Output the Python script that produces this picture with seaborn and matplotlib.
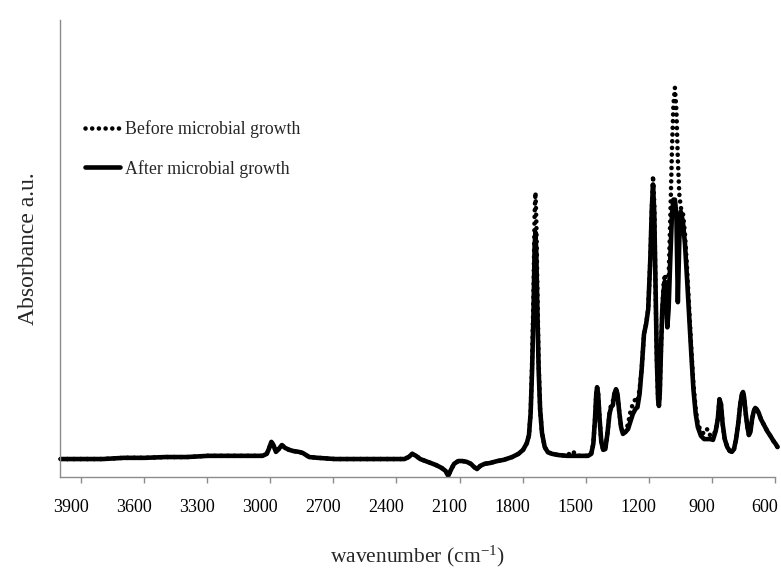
import matplotlib
matplotlib.use("Agg")
import matplotlib.pyplot as plt
import matplotlib.transforms as mtransforms
import numpy as np
import pandas as pd
import seaborn as sns

# ---------------- data ----------------
wavenumber = [
    3997, 3897, 3797, 3697, 3597, 3497, 3397, 3297, 3197, 3097, 3037, 3017,
    3007, 2995, 2985, 2973, 2960, 2945, 2930, 2910, 2890, 2865, 2845, 2815,
    2773, 2693, 2593, 2493, 2392, 2362, 2342, 2325, 2307, 2287, 2262, 2237,
    2212, 2186, 2166, 2154, 2141, 2126, 2106, 2086, 2066, 2046, 2031, 2017,
    2001, 1981, 1956, 1920, 1890, 1850, 1820, 1798,
    1780, 1770, 1762, 1755, 1748, 1743, 1739, 1735, 1730, 1724, 1717, 1708,
    1695, 1680, 1660, 1630, 1589, 1564, 1539, 1489,
    1474, 1464, 1456, 1450, 1446, 1441, 1434, 1426, 1417, 1407, 1397, 1387,
    1379, 1371, 1364, 1356, 1349, 1341, 1332, 1323, 1311, 1299, 1287, 1276,
    1264, 1254, 1244, 1234,
    1223, 1213, 1203, 1193, 1186, 1180, 1174, 1168, 1162, 1156, 1152, 1148,
    1142, 1136, 1130, 1124, 1118, 1112, 1106, 1098, 1090, 1083, 1076, 1069,
    1062, 1055, 1048, 1038, 1028, 1018, 1008, 998, 988,
    977, 967, 952, 937, 922, 907, 895, 882, 872, 864, 857, 849, 839, 827,
    815, 805, 795, 785, 775, 765, 757, 752, 747, 739, 731, 724, 717, 709,
    701, 694, 687, 677, 667, 652, 637, 622, 607, 597, 588,
]

before_growth = [
    0.045, 0.045, 0.045, 0.048, 0.048, 0.050, 0.050, 0.053, 0.053, 0.053, 0.053, 0.058,
    0.070, 0.088, 0.080, 0.063, 0.070, 0.080, 0.073, 0.068, 0.065, 0.063, 0.060, 0.050,
    0.048, 0.045, 0.045, 0.045, 0.045, 0.045, 0.050, 0.058, 0.053, 0.045, 0.040, 0.035,
    0.030, 0.023, 0.015, 0.003, 0.018, 0.033, 0.040, 0.040, 0.038, 0.033, 0.025, 0.020,
    0.028, 0.033, 0.035, 0.040, 0.043, 0.050, 0.058, 0.068,
    0.085, 0.105, 0.160, 0.290, 0.470, 0.660, 0.713, 0.640, 0.470, 0.290, 0.170, 0.110,
    0.075, 0.062, 0.058, 0.055, 0.053, 0.065, 0.053, 0.053,
    0.058, 0.083, 0.145, 0.208, 0.225, 0.208, 0.145, 0.088, 0.068, 0.070, 0.108, 0.158,
    0.183, 0.190, 0.208, 0.220, 0.208, 0.165, 0.125, 0.108, 0.113, 0.133, 0.165, 0.183,
    0.195, 0.190, 0.220, 0.270,
    0.358, 0.383, 0.420, 0.545, 0.670, 0.755, 0.683, 0.470, 0.295, 0.195, 0.178, 0.208,
    0.320, 0.420, 0.483, 0.508, 0.483, 0.445, 0.495, 0.645, 0.820, 0.933, 0.975, 0.920,
    0.795, 0.708, 0.675, 0.663, 0.608, 0.520, 0.420, 0.320, 0.233,
    0.170, 0.133, 0.115, 0.108, 0.120, 0.103, 0.105, 0.115, 0.145, 0.195, 0.183, 0.133,
    0.095, 0.075, 0.065, 0.063, 0.070, 0.095, 0.133, 0.183, 0.208, 0.213, 0.200, 0.158,
    0.125, 0.105, 0.113, 0.145, 0.165, 0.173, 0.170, 0.160, 0.145, 0.130, 0.115, 0.103,
    0.090, 0.083, 0.075,
]

after_growth = [
    0.045, 0.045, 0.045, 0.048, 0.048, 0.050, 0.050, 0.053, 0.053, 0.053, 0.053, 0.058,
    0.070, 0.088, 0.080, 0.063, 0.070, 0.080, 0.073, 0.068, 0.065, 0.063, 0.060, 0.050,
    0.048, 0.045, 0.045, 0.045, 0.045, 0.045, 0.050, 0.058, 0.053, 0.045, 0.040, 0.035,
    0.030, 0.023, 0.015, 0.003, 0.018, 0.033, 0.040, 0.040, 0.038, 0.033, 0.025, 0.020,
    0.028, 0.033, 0.035, 0.040, 0.043, 0.050, 0.058, 0.068,
    0.085, 0.105, 0.160, 0.270, 0.420, 0.580, 0.613, 0.560, 0.420, 0.270, 0.170, 0.110,
    0.075, 0.062, 0.058, 0.055, 0.053, 0.053, 0.053, 0.053,
    0.058, 0.083, 0.145, 0.208, 0.225, 0.208, 0.145, 0.088, 0.068, 0.070, 0.108, 0.158,
    0.175, 0.180, 0.208, 0.220, 0.208, 0.165, 0.125, 0.108, 0.113, 0.120, 0.140, 0.158,
    0.170, 0.175, 0.208, 0.270,
    0.358, 0.383, 0.420, 0.545, 0.670, 0.733, 0.658, 0.470, 0.295, 0.195, 0.178, 0.208,
    0.320, 0.420, 0.465, 0.490, 0.445, 0.375, 0.420, 0.545, 0.658, 0.695, 0.695, 0.658,
    0.438, 0.595, 0.665, 0.640, 0.583, 0.495, 0.400, 0.308, 0.220,
    0.158, 0.125, 0.103, 0.095, 0.095, 0.095, 0.093, 0.115, 0.145, 0.195, 0.183, 0.133,
    0.095, 0.075, 0.065, 0.063, 0.070, 0.095, 0.133, 0.183, 0.208, 0.213, 0.200, 0.158,
    0.125, 0.105, 0.113, 0.145, 0.165, 0.173, 0.170, 0.160, 0.145, 0.130, 0.115, 0.103,
    0.090, 0.083, 0.075,
]

series_labels = ["Before microbial growth", "After microbial growth"]
x_ticks = [3900, 3600, 3300, 3000, 2700, 2400, 2100, 1800, 1500, 1200, 900, 600]

# ---------------- style ----------------
sns.set_style("white")
plt.rcParams["font.family"] = ["Liberation Serif", "DejaVu Serif"]
plt.rcParams["mathtext.fontset"] = "custom"
plt.rcParams["mathtext.rm"] = "Liberation Serif"
plt.rcParams["mathtext.it"] = "Liberation Serif:italic"

n = len(wavenumber)
df = pd.DataFrame({
    "wavenumber": wavenumber + wavenumber,
    "absorbance": before_growth + after_growth,
    "condition": [series_labels[0]] * n + [series_labels[1]] * n,
})

W, H = 781, 574
fig = plt.figure(figsize=(W / 100, H / 100), dpi=100)
ax = fig.add_axes([60 / W, 1 - 477 / H, 715 / W, 457 / H])

sns.lineplot(
    data=df[df["condition"] == series_labels[0]], x="wavenumber", y="absorbance",
    color="black", lw=3.3, linestyle=(0, (0.01, 1.45)), dash_capstyle="round",
    sort=False, estimator=None, ax=ax, label=series_labels[0], clip_on=False,
)
sns.lineplot(
    data=df[df["condition"] == series_labels[1]], x="wavenumber", y="absorbance",
    color="black", lw=3.3, solid_capstyle="round", solid_joinstyle="round",
    sort=False, estimator=None, ax=ax, label=series_labels[1], clip_on=False,
)

ax.set_xlim(4000, 600)
ax.set_ylim(0, 1.145)
ax.set_xticks(x_ticks)
ax.set_xticklabels([str(t) for t in x_ticks])
ax.set_yticks([])

for s in ["top", "right"]:
    ax.spines[s].set_visible(False)
for s in ["left", "bottom"]:
    ax.spines[s].set_color("#8c8c8c")
    ax.spines[s].set_linewidth(1.0)

ax.tick_params(axis="x", direction="out", length=4, width=1, color="#8c8c8c",
               labelsize=13, pad=12, labelcolor="black", bottom=True)

# labels sit a little to the left of their tick marks, as in the reference
shift = mtransforms.ScaledTranslation(-10 / 100, 0, fig.dpi_scale_trans)
for lab in ax.get_xticklabels():
    lab.set_transform(lab.get_transform() + shift)

ax.set_xlabel(r"wavenumber (cm$^{\mathrm{-1}}$)", fontsize=15.5, labelpad=20)
ax.set_ylabel("Absorbance a.u.", fontsize=17, labelpad=15)

ax.legend(loc="upper left", bbox_to_anchor=(0.012, 0.815), frameon=False,
          fontsize=12.8, handlelength=2.0, handletextpad=0.25, labelspacing=1.2)

fig.savefig("out.png", dpi=100)
